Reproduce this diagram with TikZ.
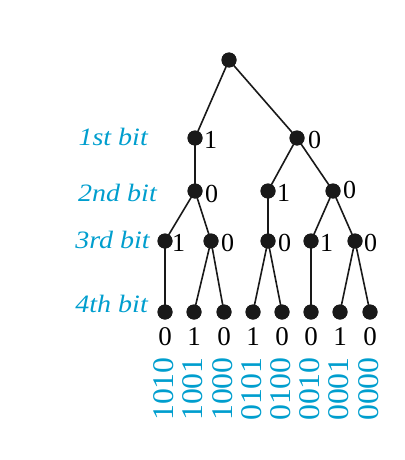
\documentclass[tikz,border=0pt]{standalone}
\usepackage{fontspec}
\setmainfont{Liberation Serif}
\definecolor{bitblue}{RGB}{0,158,206}
\tikzset{
  dot/.style={circle,fill=black!90,inner sep=0pt,minimum size=15pt},
  edge/.style={line width=1.6pt,black!90},
  bitlab/.style={anchor=base west,inner sep=0pt,font=\fontsize{26}{26}\selectfont},
  leaflab/.style={anchor=base,inner sep=0pt,font=\fontsize{27}{27}\selectfont},
  codelab/.style={rotate=90,inner sep=0pt,text=bitblue,xscale=1.06,font=\fontsize{30}{30}\selectfont},
  rowlab/.style={anchor=base east,inner sep=0pt,text=bitblue,xscale=1.12,font=\fontsize{25}{25}\selectfont\itshape}
}
\begin{document}
\begin{tikzpicture}[x=1pt,y=-1pt]
\useasboundingbox (0,0) rectangle (404,460);
% nodes
\node[dot] (r) at (229,60) {};
\node[dot] (a) at (195,138) {};
\node[dot] (b) at (297,138) {};
\node[dot] (aa) at (195,191) {};
\node[dot] (ba) at (268,191) {};
\node[dot] (bb) at (333,191) {};
\node[dot] (c1) at (165,241) {};
\node[dot] (c2) at (211,241) {};
\node[dot] (c3) at (268,241) {};
\node[dot] (c4) at (311,241) {};
\node[dot] (c5) at (355,241) {};
\node[dot] (l1) at (165,312) {};
\node[dot] (l2) at (194,312) {};
\node[dot] (l3) at (224,312) {};
\node[dot] (l4) at (253,312) {};
\node[dot] (l5) at (282,312) {};
\node[dot] (l6) at (311,312) {};
\node[dot] (l7) at (340,312) {};
\node[dot] (l8) at (370,312) {};
% edges
\draw[edge] (r.center) -- (a.center);
\draw[edge] (r.center) -- (b.center);
\draw[edge] (a.center) -- (aa.center);
\draw[edge] (b.center) -- (ba.center);
\draw[edge] (b.center) -- (bb.center);
\draw[edge] (aa.center) -- (c1.center);
\draw[edge] (aa.center) -- (c2.center);
\draw[edge] (ba.center) -- (c3.center);
\draw[edge] (bb.center) -- (c4.center);
\draw[edge] (bb.center) -- (c5.center);
\draw[edge] (c1.center) -- (l1.center);
\draw[edge] (c2.center) -- (l2.center);
\draw[edge] (c2.center) -- (l3.center);
\draw[edge] (c3.center) -- (l4.center);
\draw[edge] (c3.center) -- (l5.center);
\draw[edge] (c4.center) -- (l6.center);
\draw[edge] (c5.center) -- (l7.center);
\draw[edge] (c5.center) -- (l8.center);
% redraw dots on top
\foreach \n in {r,a,b,aa,ba,bb,c1,c2,c3,c4,c5,l1,l2,l3,l4,l5,l6,l7,l8}
  \fill[black!90] (\n.center) circle (7.5pt);
% internal labels
\node[bitlab] (ta) at ([xshift=9pt,yshift=-10pt]a.center) {1};
\node[bitlab] (tb) at ([xshift=11pt,yshift=-10pt]b.center) {0};
\node[bitlab] (taa) at ([xshift=10pt,yshift=-11pt]aa.center) {0};
\node[bitlab] (tba) at ([xshift=9pt,yshift=-10pt]ba.center) {1};
\node[bitlab] (tbb) at ([xshift=10pt,yshift=-7pt]bb.center) {0};
\node[bitlab] (tc1) at ([xshift=7pt,yshift=-10pt]c1.center) {1};
\node[bitlab] (tc2) at ([xshift=10pt,yshift=-10pt]c2.center) {0};
\node[bitlab] (tc3) at ([xshift=10pt,yshift=-10pt]c3.center) {0};
\node[bitlab] (tc4) at ([xshift=9pt,yshift=-10pt]c4.center) {1};
\node[bitlab] (tc5) at ([xshift=9pt,yshift=-10pt]c5.center) {0};
% leaf labels
\node[leaflab] (d1) at (165,345) {0};
\node[leaflab] (d2) at (194,345) {1};
\node[leaflab] (d3) at (224,345) {0};
\node[leaflab] (d4) at (253,345) {1};
\node[leaflab] (d5) at (282,345) {0};
\node[leaflab] (d6) at (311,345) {0};
\node[leaflab] (d7) at (340,345) {1};
\node[leaflab] (d8) at (370,345) {0};
% codes
\node[codelab] (e1) at (164,389) {1010};
\node[codelab] (e2) at (193,389) {1001};
\node[codelab] (e3) at (223,389) {1000};
\node[codelab] (e4) at (252,389) {0101};
\node[codelab] (e5) at (281,389) {0100};
\node[codelab] (e6) at (310,389) {0010};
\node[codelab] (e7) at (339,389) {0001};
\node[codelab] (e8) at (369,389) {0000};
% row labels
\node[rowlab] (row1) at (148,145) {1st bit};
\node[rowlab] (row2) at (157,201) {2nd bit};
\node[rowlab] (row3) at (150,248) {3rd bit};
\node[rowlab] (row4) at (148,312) {4th bit};
\end{tikzpicture}
\end{document}
